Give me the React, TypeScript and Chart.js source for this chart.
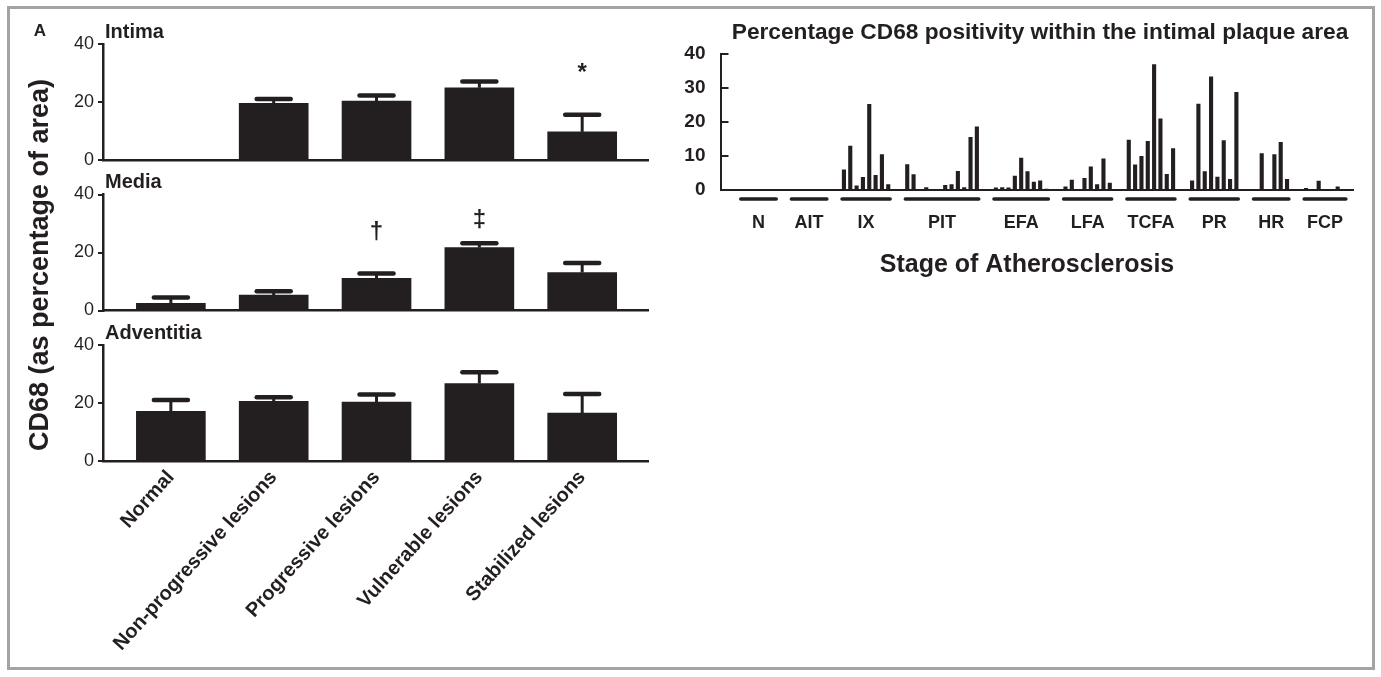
import React, { useEffect, useRef } from 'react';
import { Chart, registerables } from 'chart.js';

Chart.register(...registerables);

const W = 1381;
const H = 677;
const INK = '#231f20';
const FONT = '"Liberation Sans", Arial, Helvetica, sans-serif';

// ---------- Left figure (panel A) ----------
const categories = ['Normal', 'Non-progressive lesions', 'Progressive lesions', 'Vulnerable lesions', 'Stabilized lesions'];
const leftTicks = [0, 20, 40];

const intimaMean = [0, 19.5, 20.3, 24.9, 9.7];
const intimaSem = [0, 1.5, 1.9, 2.2, 5.9];
const intimaMarks = [{ index: 4, symbol: '*', value: 30 }];

const mediaMean = [2.5, 5.3, 11.1, 21.7, 13.1];
const mediaSem = [2.0, 1.3, 1.7, 1.5, 3.3];
const mediaMarks = [
  { index: 2, symbol: '†', value: 27 },
  { index: 3, symbol: '‡', value: 31 },
];

const adventitiaMean = [17.1, 20.6, 20.3, 26.7, 16.5];
const adventitiaSem = [3.9, 1.4, 2.6, 3.9, 6.6];
const adventitiaMarks: { index: number; symbol: string; value: number }[] = [];

// ---------- Right figure ----------
const stageNames = ['N', 'AIT', 'IX', 'PIT', 'EFA', 'LFA', 'TCFA', 'PR', 'HR', 'FCP'];
const stageN = [0, 0, 0, 0, 0, 0];
const stageAIT = [0, 0, 0, 0, 0, 0];
const stageIX = [6, 13, 1.3, 3.8, 25.3, 4.4, 10.5, 1.7];
const stagePIT = [7.6, 4.6, 0, 0.8, 0, 0, 1.5, 1.7, 5.6, 0.8, 15.6, 18.7];
const stageEFA = [0.7, 0.8, 0.7, 4.2, 9.5, 5.5, 2.4, 2.8, 0.4];
const stageLFA = [1.0, 3.0, 0, 3.5, 6.9, 1.7, 9.3, 2.1];
const stageTCFA = [14.8, 7.5, 10, 14.4, 37, 21, 4.7, 12.3];
const stagePR = [2.8, 25.4, 5.5, 33.4, 3.9, 14.6, 3.2, 28.8];
const stageHR = [0.3, 10.8, 0, 10.5, 14.1, 3.2];
const stageFCP = [0.6, 0, 2.7, 0, 0, 1.0, 0];
const stageValues = [stageN, stageAIT, stageIX, stagePIT, stageEFA, stageLFA, stageTCFA, stagePR, stageHR, stageFCP];
const rightTicks = [0, 10, 20, 30, 40];
const LEAD_SLOTS = 3;
const GAP_SLOTS = 2;
const TRAIL_SLOTS = 1;

// build the slot table
const slotValues: (number | null)[] = [];
const groupRanges: { name: string; first: number; last: number }[] = [];
for (let i = 0; i < LEAD_SLOTS; i++) slotValues.push(null);
stageValues.forEach((vals, g) => {
  const first = slotValues.length;
  vals.forEach((v) => slotValues.push(v));
  groupRanges.push({ name: stageNames[g], first, last: slotValues.length - 1 });
  if (g < stageValues.length - 1) for (let i = 0; i < GAP_SLOTS; i++) slotValues.push(null);
});
for (let i = 0; i < TRAIL_SLOTS; i++) slotValues.push(null);
const slotLabels = slotValues.map((_, i) => String(i));

function txt(
  ctx: CanvasRenderingContext2D,
  s: string,
  x: number,
  y: number,
  font: string,
  align: CanvasTextAlign = 'center',
  rot = 0,
  sx = 1
) {
  ctx.save();
  ctx.translate(x, y);
  if (rot) ctx.rotate(rot);
  ctx.scale(sx, 1);
  ctx.font = font;
  ctx.fillStyle = INK;
  ctx.textAlign = align;
  ctx.textBaseline = 'middle';
  ctx.fillText(s, 0, 0);
  ctx.restore();
}

type Panel = {
  title: string;
  mean: number[];
  sem: number[];
  marks: { index: number; symbol: string; value: number }[];
  top: number;
  bottom: number;
  showLabels: boolean;
  figureText: boolean;
};

function panelPlugin(p: Panel) {
  return {
    id: 'panelExtras' + p.title,
    afterDatasetsDraw(chart: any) {
      const ctx = chart.ctx as CanvasRenderingContext2D;
      const xs = chart.scales.x;
      const ys = chart.scales.y;
      const area = chart.chartArea;
      ctx.save();
      ctx.strokeStyle = INK;
      p.mean.forEach((m, i) => {
        const e = p.sem[i];
        if (!e) return;
        const x = xs.getPixelForValue(i);
        const y0 = ys.getPixelForValue(m);
        const y1 = ys.getPixelForValue(m + e);
        ctx.lineCap = 'butt';
        ctx.lineWidth = 3;
        ctx.beginPath();
        ctx.moveTo(x, y0);
        ctx.lineTo(x, y1);
        ctx.stroke();
        ctx.lineCap = 'round';
        ctx.lineWidth = 4.5;
        ctx.beginPath();
        ctx.moveTo(x - 17, y1);
        ctx.lineTo(x + 17, y1);
        ctx.stroke();
      });
      ctx.restore();
      p.marks.forEach((mk) => {
        txt(ctx, mk.symbol, xs.getPixelForValue(mk.index), ys.getPixelForValue(mk.value), `bold 24px ${FONT}`);
      });
      txt(ctx, p.title, area.left + 2, area.top - 12, `bold 20px ${FONT}`, 'left');
      if (p.figureText) {
        txt(ctx, 'A', 40, 31, `bold 17px ${FONT}`);
        txt(ctx, 'CD68 (as percentage of area)', 41, 265, `bold 27px ${FONT}`, 'center', -Math.PI / 2);
      }
    },
  };
}

const LABEL_AREA = 210;

function makePanel(canvas: HTMLCanvasElement, p: Panel) {
  const xHeight = p.showLabels ? LABEL_AREA : 0;
  return new Chart(canvas, {
    type: 'bar',
    data: {
      datasets: [
        {
          data: p.mean.map((v, i) => ({ x: i, y: v })),
          backgroundColor: INK,
          borderWidth: 0,
          barThickness: 69,
        } as any,
      ],
    },
    options: {
      animation: false,
      responsive: false,
      devicePixelRatio: 1,
      layout: { padding: { left: 0, top: p.top, right: W - 648, bottom: H - p.bottom - xHeight } },
      plugins: { legend: { display: false }, tooltip: { enabled: false }, title: { display: false } },
      scales: {
        x: {
          type: 'linear',
          min: -0.66,
          max: 4.64,
          offset: false,
          grid: { display: false },
          border: { display: true, color: INK, width: 2.5 },
          afterBuildTicks: (s: any) => {
            s.ticks = categories.map((_, i) => ({ value: i }));
          },
          afterFit: (s: any) => {
            s.height = xHeight;
          },
          ticks: {
            display: p.showLabels,
            autoSkip: false,
            minRotation: 48,
            maxRotation: 48,
            padding: -3,
            color: INK,
            font: { family: FONT, size: 20, weight: 'bold' },
            callback: (v: any) => categories[v as number] ?? '',
          },
        },
        y: {
          min: 0,
          max: 40,
          afterBuildTicks: (s: any) => {
            s.ticks = leftTicks.map((v) => ({ value: v }));
          },
          afterFit: (s: any) => {
            s.width = 103;
          },
          grid: { display: true, drawOnChartArea: false, drawTicks: true, tickLength: 5, lineWidth: 2, color: INK },
          border: { display: true, color: INK, width: 2.5 },
          ticks: { padding: 4, color: INK, font: { family: FONT, size: 18 } },
        },
      } as any,
    },
    plugins: [panelPlugin(p)],
  } as any);
}

const rightPlugin = {
  id: 'rightExtras',
  afterDraw(chart: any) {
    const ctx = chart.ctx as CanvasRenderingContext2D;
    const xs = chart.scales.x;
    const ys = chart.scales.y;
    const area = chart.chartArea;
    const slotW = xs.getPixelForValue(1) - xs.getPixelForValue(0);
    ctx.save();
    ctx.strokeStyle = INK;
    ctx.lineWidth = 2;
    rightTicks.forEach((v) => {
      const y = ys.getPixelForValue(v);
      ctx.beginPath();
      ctx.moveTo(area.left, y);
      ctx.lineTo(area.left + 8, y);
      ctx.stroke();
    });
    ctx.lineWidth = 3.5;
    ctx.lineCap = 'round';
    groupRanges.forEach((g) => {
      const x1 = xs.getPixelForValue(g.first) - slotW * 0.3;
      const x2 = xs.getPixelForValue(g.last) + slotW * 0.3;
      ctx.beginPath();
      ctx.moveTo(x1, area.bottom + 9);
      ctx.lineTo(x2, area.bottom + 9);
      ctx.stroke();
      txt(ctx, g.name, (x1 + x2) / 2, area.bottom + 33, `bold 18px ${FONT}`);
    });
    ctx.restore();
    const cx = (area.left + area.right) / 2;
    txt(ctx, 'Stage of Atherosclerosis', cx - 10, area.bottom + 75, `bold 25px ${FONT}`);
    txt(ctx, 'Percentage CD68 positivity within the intimal plaque area', cx + 3, area.top - 21, `bold 22.7px ${FONT}`);
  },
};

function makeRight(canvas: HTMLCanvasElement) {
  return new Chart(canvas, {
    type: 'bar',
    data: {
      labels: slotLabels,
      datasets: [
        {
          data: slotValues,
          backgroundColor: INK,
          borderWidth: 0,
          barPercentage: 0.65,
          categoryPercentage: 1,
        } as any,
      ],
    },
    options: {
      animation: false,
      responsive: false,
      devicePixelRatio: 1,
      layout: { padding: { left: 0, top: 54, right: W - 1353.5, bottom: H - 190 } },
      plugins: { legend: { display: false }, tooltip: { enabled: false }, title: { display: false } },
      scales: {
        x: {
          type: 'category',
          offset: true,
          grid: { display: false },
          border: { display: true, color: INK, width: 2 },
          ticks: { display: false },
          afterFit: (s: any) => {
            s.height = 0;
          },
        },
        y: {
          min: 0,
          max: 40,
          afterBuildTicks: (s: any) => {
            s.ticks = rightTicks.map((v) => ({ value: v }));
          },
          afterFit: (s: any) => {
            s.width = 720.5;
          },
          grid: { display: false, drawTicks: false },
          border: { display: true, color: INK, width: 2 },
          ticks: { padding: 15, color: INK, font: { family: FONT, size: 19, weight: 'bold' } },
        },
      } as any,
    },
    plugins: [rightPlugin],
  } as any);
}

function ChartCanvas({ make }: { make: (c: HTMLCanvasElement) => Chart }) {
  const ref = useRef<HTMLCanvasElement | null>(null);
  useEffect(() => {
    if (!ref.current) return;
    const c = make(ref.current);
    return () => c.destroy();
  }, []);
  return (
    <canvas
      ref={ref}
      width={W}
      height={H}
      style={{ position: 'absolute', left: 0, top: 0, width: W, height: H }}
    />
  );
}

const panels: Panel[] = [
  { title: 'Intima', mean: intimaMean, sem: intimaSem, marks: intimaMarks, top: 44, bottom: 160, showLabels: false, figureText: true },
  { title: 'Media', mean: mediaMean, sem: mediaSem, marks: mediaMarks, top: 194.5, bottom: 310.5, showLabels: false, figureText: false },
  { title: 'Adventitia', mean: adventitiaMean, sem: adventitiaSem, marks: adventitiaMarks, top: 345, bottom: 461, showLabels: true, figureText: false },
];

export default function App() {
  return (
    <div style={{ position: 'absolute', left: 0, top: 0, width: W, height: H, background: '#fff', overflow: 'hidden' }}>
      <div
        style={{
          position: 'absolute',
          left: 7,
          top: 6,
          width: 1368,
          height: 664,
          border: '3px solid #a3a3a3',
          boxSizing: 'border-box',
        }}
      />
      {panels.map((p) => (
        <ChartCanvas key={p.title} make={(c) => makePanel(c, p)} />
      ))}
      <ChartCanvas make={makeRight} />
    </div>
  );
}
